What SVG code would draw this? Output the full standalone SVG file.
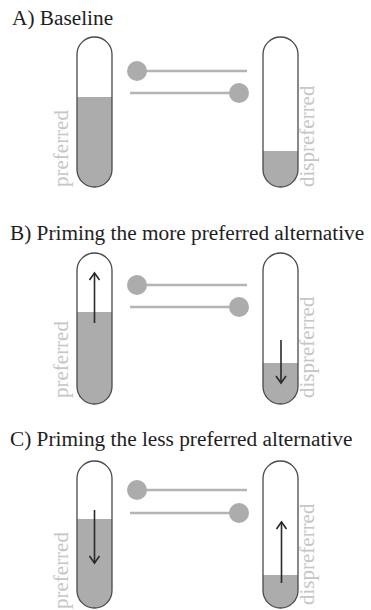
<svg xmlns="http://www.w3.org/2000/svg" width="371" height="610" viewBox="0 0 371 610">
<style>
.title{font-family:"Liberation Serif","Times New Roman",serif;font-size:21.3px;fill:#1e1e1e}
.lbl{font-family:"Liberation Serif","Times New Roman",serif;font-size:21px;fill:#c6c6c6}
.tube{fill:none;stroke:#4a4a4a;stroke-width:1.3}
.liquid{fill:#acacac}
.conn{stroke:#b4b4b4;stroke-width:2.5;fill:none}
.dot{fill:#acacac}
.arr{stroke:#2a2a2a;stroke-width:1.6;fill:none}
</style>
<defs>
<marker id="ah" markerWidth="10" markerHeight="12" refX="8" refY="6" orient="auto" markerUnits="userSpaceOnUse">
<path d="M1,1 L8,6 L1,11" fill="none" stroke="#2a2a2a" stroke-width="1.6"/>
</marker>
<clipPath id="cA1"><rect x="77" y="37" width="35" height="150" rx="17.5"/></clipPath>
<clipPath id="cA2"><rect x="263" y="37" width="35" height="150" rx="17.5"/></clipPath>
<clipPath id="cB1"><rect x="77" y="253" width="35" height="151" rx="17.5"/></clipPath>
<clipPath id="cB2"><rect x="263" y="253" width="35" height="151" rx="17.5"/></clipPath>
<clipPath id="cC1"><rect x="77" y="461" width="35" height="147" rx="17.5"/></clipPath>
<clipPath id="cC2"><rect x="263" y="461" width="35" height="147" rx="17.5"/></clipPath>
</defs>

<!-- Panel A -->
<text class="title" x="12" y="25">A) Baseline</text>
<g id="A-preferred">
<rect class="liquid" x="77" y="97" width="35" height="90" clip-path="url(#cA1)"/>
<rect class="tube" x="77" y="37" width="35" height="150" rx="17.5"/>
<text class="lbl" transform="translate(68,187) rotate(-90)">preferred</text>
</g>
<g id="A-dispreferred">
<rect class="liquid" x="263" y="151" width="35" height="36" clip-path="url(#cA2)"/>
<rect class="tube" x="263" y="37" width="35" height="150" rx="17.5"/>
<text class="lbl" transform="translate(314,187) rotate(-90)">dispreferred</text>
</g>
<g id="A-connectors">
<line class="conn" x1="137" y1="71" x2="247" y2="71"/>
<circle class="dot" cx="137" cy="71" r="10"/>
<line class="conn" x1="130" y1="93" x2="239" y2="93"/>
<circle class="dot" cx="239" cy="93" r="10"/>
</g>

<!-- Panel B -->
<text class="title" x="10" y="240">B) Priming the more preferred alternative</text>
<g id="B-preferred">
<rect class="liquid" x="77" y="312" width="35" height="92" clip-path="url(#cB1)"/>
<rect class="tube" x="77" y="253" width="35" height="151" rx="17.5"/>
<line class="arr" x1="94.5" y1="323" x2="94.5" y2="273" marker-end="url(#ah)"/>
<text class="lbl" transform="translate(68,398) rotate(-90)">preferred</text>
</g>
<g id="B-dispreferred">
<rect class="liquid" x="263" y="363" width="35" height="41" clip-path="url(#cB2)"/>
<rect class="tube" x="263" y="253" width="35" height="151" rx="17.5"/>
<line class="arr" x1="281" y1="340" x2="281" y2="383" marker-end="url(#ah)"/>
<text class="lbl" transform="translate(314,398) rotate(-90)">dispreferred</text>
</g>
<g id="B-connectors">
<line class="conn" x1="137" y1="285" x2="247" y2="285"/>
<circle class="dot" cx="137" cy="285" r="10"/>
<line class="conn" x1="130" y1="307" x2="239" y2="307"/>
<circle class="dot" cx="239" cy="307" r="10"/>
</g>

<!-- Panel C -->
<text class="title" x="10" y="446">C) Priming the less preferred alternative</text>
<g id="C-preferred">
<rect class="liquid" x="77" y="519" width="35" height="89" clip-path="url(#cC1)"/>
<rect class="tube" x="77" y="461" width="35" height="147" rx="17.5"/>
<line class="arr" x1="94.5" y1="510" x2="94.5" y2="563" marker-end="url(#ah)"/>
<text class="lbl" transform="translate(68,609) rotate(-90)">preferred</text>
</g>
<g id="C-dispreferred">
<rect class="liquid" x="263" y="575" width="35" height="33" clip-path="url(#cC2)"/>
<rect class="tube" x="263" y="461" width="35" height="147" rx="17.5"/>
<line class="arr" x1="281.5" y1="583" x2="281.5" y2="522" marker-end="url(#ah)"/>
<text class="lbl" transform="translate(314,605) rotate(-90)">dispreferred</text>
</g>
<g id="C-connectors">
<line class="conn" x1="137" y1="490" x2="247" y2="490"/>
<circle class="dot" cx="137" cy="490" r="10"/>
<line class="conn" x1="130" y1="513" x2="239" y2="513"/>
<circle class="dot" cx="239" cy="513" r="10"/>
</g>
</svg>
